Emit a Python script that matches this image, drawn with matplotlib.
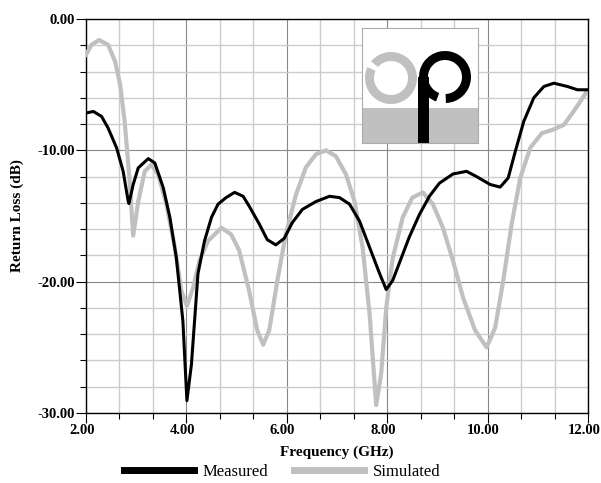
import numpy as np
import matplotlib
matplotlib.use('Agg')
import matplotlib.pyplot as plt
import matplotlib.transforms as mtransforms
from matplotlib.ticker import MultipleLocator, FormatStrFormatter
from matplotlib.patches import Rectangle, Wedge

plt.rcParams['font.family'] = ['Liberation Serif', 'DejaVu Serif']

# Measured return loss (GHz, dB)
meas_f = [2.0, 2.146, 2.31, 2.44, 2.61, 2.74, 2.84, 2.855, 2.94, 3.04, 3.24, 3.37,
          3.54, 3.67, 3.80, 3.93, 4.01, 4.10, 4.23, 4.36, 4.50, 4.63, 4.79, 4.96,
          5.13, 5.25, 5.45, 5.61, 5.78, 5.95, 6.11, 6.31, 6.58, 6.85, 7.05, 7.25,
          7.45, 7.65, 7.85, 7.98, 8.11, 8.31, 8.44, 8.64, 8.84, 9.04, 9.31, 9.58,
          9.78, 10.05, 10.25, 10.41, 10.55, 10.72, 10.92, 11.12, 11.32, 11.59,
          11.79, 12.0]
meas_db = [-7.16, -7.04, -7.42, -8.3, -9.82, -11.6, -13.87, -14.05, -12.6, -11.34, -10.63, -10.96,
           -12.86, -15.1, -18.2, -23.0, -29.06, -26.3, -19.4, -16.9, -15.1, -14.1, -13.6, -13.2,
           -13.5, -14.25, -15.6, -16.8, -17.2, -16.7, -15.5, -14.5, -13.9, -13.5, -13.6, -14.1,
           -15.4, -17.4, -19.4, -20.6, -19.9, -17.9, -16.6, -14.9, -13.5, -12.5, -11.8, -11.6,
           -12.0, -12.6, -12.8, -12.1, -10.1, -7.8, -6.0, -5.14, -4.89, -5.14,
           -5.39, -5.39]

# Simulated return loss (GHz, dB)
sim_f = [2.0, 2.11, 2.26, 2.44, 2.58, 2.68, 2.77, 2.87, 2.94, 3.04, 3.17, 3.30,
         3.44, 3.60, 3.77, 3.90, 4.01, 4.13, 4.26, 4.43, 4.70, 4.89, 5.05, 5.25,
         5.41, 5.53, 5.65, 5.81, 5.98, 6.18, 6.38, 6.58, 6.78, 6.98, 7.18, 7.35,
         7.51, 7.65, 7.78, 7.88, 7.98, 8.11, 8.31, 8.50, 8.71, 8.91, 9.11, 9.31,
         9.51, 9.75, 9.98, 10.15, 10.31, 10.48, 10.65, 10.85, 11.08, 11.32, 11.52,
         11.72, 12.0]
sim_db = [-2.73, -1.97, -1.6, -1.97, -3.24, -5.0, -7.8, -12.35, -16.5, -13.9, -11.6, -11.1,
          -11.85, -14.1, -17.4, -20.7, -21.85, -20.5, -18.4, -16.9, -15.9, -16.4, -17.6, -20.7,
          -23.7, -24.8, -23.7, -19.95, -16.4, -13.4, -11.3, -10.3, -10.0, -10.46, -11.85, -13.9,
          -17.4, -22.5, -29.4, -27.0, -22.0, -18.2, -15.1, -13.6, -13.2, -14.1, -15.9, -18.4,
          -21.2, -23.7, -25.0, -23.5, -19.95, -15.6, -12.1, -9.8, -8.7, -8.4, -8.05,
          -7.0, -5.39]

fig = plt.figure(figsize=(6.01, 4.83), dpi=100)
ax = fig.add_axes([0.1431, 0.1449, 0.8353, 0.8158])

ax.plot(sim_f, sim_db, color='#c0c0c0', lw=3.0, label='Simulated', zorder=3,
        solid_joinstyle='round')
ax.plot(meas_f, meas_db, color='black', lw=2.2, label='Measured', zorder=4,
        solid_joinstyle='round')

ax.set_xlim(2, 12)
ax.set_ylim(-30, 0)
ax.xaxis.set_major_locator(MultipleLocator(2))
ax.xaxis.set_minor_locator(MultipleLocator(2 / 3))
ax.yaxis.set_major_locator(MultipleLocator(10))
ax.yaxis.set_minor_locator(MultipleLocator(2))
ax.xaxis.set_major_formatter(FormatStrFormatter('%.2f'))
ax.yaxis.set_major_formatter(FormatStrFormatter('%.2f'))
ax.grid(which='minor', color='#cccccc', lw=1.0, zorder=0)
ax.grid(which='major', color='#888888', lw=0.8, zorder=1)
ax.tick_params(which='major', length=7, width=0.8, pad=1, labelsize=10.5)
ax.tick_params(which='minor', length=4, width=0.8)
shift = mtransforms.ScaledTranslation(-3 / 72, 0, fig.dpi_scale_trans)
for lab in ax.get_xticklabels():
    lab.set_fontweight('bold')
    lab.set_transform(lab.get_transform() + shift)
for lab in ax.get_yticklabels():
    lab.set_fontweight('bold')
for s in ax.spines.values():
    s.set_linewidth(1.0)

ax.set_xlabel('Frequency (GHz)', fontsize=11, fontweight='bold', labelpad=6)
ax.set_ylabel('Return Loss (dB)', fontsize=11, fontweight='bold', labelpad=10)

# logo in the upper area (pixel units, y up)
lg = fig.add_axes([362 / 601, 1 - 143 / 483, 116 / 601, 115 / 483])
lg.set_xlim(0, 116)
lg.set_ylim(0, 115)
lg.set_aspect('equal')
lg.set_xticks([])
lg.set_yticks([])
for s in lg.spines.values():
    s.set_color('#aaaaaa')
    s.set_linewidth(0.8)
lg.add_patch(Rectangle((0, 0), 116, 35, color='#c0c0c0', lw=0))
lg.add_patch(Wedge((29, 65), 26, 155, 500, width=9, color='#c0c0c0', lw=0))
lg.add_patch(Rectangle((56, 0), 11, 66, color='black', lw=0))
lg.add_patch(Wedge((83, 66), 26, -88, 250, width=9, color='black', lw=0))

h, l = ax.get_legend_handles_labels()
leg = fig.legend(h[::-1], l[::-1], loc='center', bbox_to_anchor=(282 / 601, 1 - 472 / 483),
                 ncol=2, frameon=False, fontsize=12, handlelength=4.2, columnspacing=1.5,
                 handletextpad=0.55)
for ln in leg.get_lines():
    ln.set_linewidth(5)

fig.savefig('out.png', dpi=100)
